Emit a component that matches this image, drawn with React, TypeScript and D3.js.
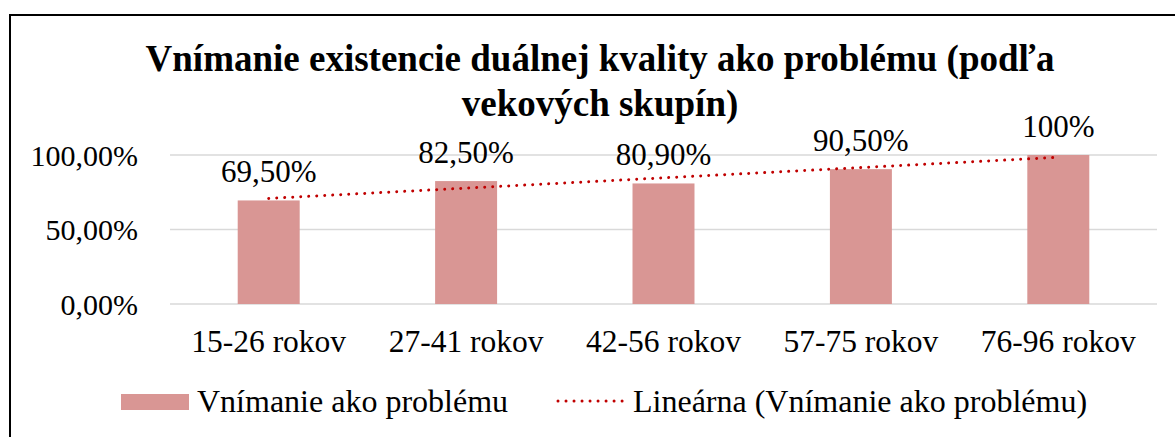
import React, { useEffect, useRef } from 'react';
import * as d3 from 'd3';

// data
const categories = ['15-26 rokov', '27-41 rokov', '42-56 rokov', '57-75 rokov', '76-96 rokov'];
const values = [0.695, 0.825, 0.809, 0.905, 1.0];
const valueLabels = ['69,50%', '82,50%', '80,90%', '90,50%', '100%'];
const yTicks = [0, 0.5, 1];
const titleLines = ['Vnímanie existencie duálnej kvality ako problému (podľa', 'vekových skupín)'];
const seriesName = 'Vnímanie ako problému';
const trendName = 'Lineárna (Vnímanie ako problému)';

const FONT = '"Liberation Serif", "Times New Roman", serif';
const BAR_COLOR = '#d99694';
const TREND_COLOR = '#c00000';

const App = () => {
    const ref = useRef<SVGSVGElement>(null);

    useEffect(() => {
        const width = 1175;
        const height = 437;
        const plot = { left: 170, right: 1157, top: 155, bottom: 304 };

        const svg = d3.select(ref.current)
            .attr('width', width)
            .attr('height', height);
        svg.selectAll('*').remove();

        svg.append('rect')
            .attr('width', width).attr('height', height)
            .attr('fill', '#fff');

        // chart frame (right and bottom edges fall outside the picture)
        svg.append('rect')
            .attr('x', 10).attr('y', 15)
            .attr('width', 1200).attr('height', 500)
            .attr('fill', 'none')
            .attr('stroke', '#000')
            .attr('stroke-width', 2);

        const xScale = d3.scaleBand()
            .domain(categories)
            .range([plot.left, plot.right])
            .paddingInner(0.686)
            .paddingOuter(0.343);

        const yScale = d3.scaleLinear()
            .domain([0, 1])
            .range([plot.bottom, plot.top]);

        const sk = d3.formatLocale({ decimal: ',', thousands: ' ', grouping: [3], currency: ['', ' €'] });
        const pct = sk.format('.2%');

        // title
        svg.append('text')
            .attr('x', 600)
            .attr('font-family', FONT)
            .attr('font-size', 37)
            .attr('font-weight', 'bold')
            .attr('text-anchor', 'middle')
            .selectAll('tspan')
            .data(titleLines)
            .enter()
            .append('tspan')
            .attr('x', 600)
            .attr('y', (d, i) => 71 + i * 45)
            .text(d => d);

        // gridlines
        svg.append('g')
            .selectAll('line')
            .data(yTicks)
            .enter()
            .append('line')
            .attr('x1', plot.left).attr('x2', plot.right)
            .attr('y1', d => yScale(d)).attr('y2', d => yScale(d))
            .attr('stroke', '#d9d9d9')
            .attr('stroke-width', 1.5);

        // y tick labels
        svg.append('g')
            .selectAll('text')
            .data(yTicks)
            .enter()
            .append('text')
            .attr('x', 138)
            .attr('y', d => yScale(d))
            .attr('dy', '0.35em')
            .attr('text-anchor', 'end')
            .attr('font-family', FONT)
            .attr('font-size', 30)
            .text(d => pct(d));

        // bars
        svg.append('g')
            .selectAll('rect')
            .data(values)
            .enter()
            .append('rect')
            .attr('x', (d, i) => xScale(categories[i]))
            .attr('y', d => yScale(d))
            .attr('width', xScale.bandwidth())
            .attr('height', d => yScale(0) - yScale(d))
            .attr('fill', BAR_COLOR);

        // value labels
        svg.append('g')
            .selectAll('text')
            .data(values)
            .enter()
            .append('text')
            .attr('x', (d, i) => xScale(categories[i]) + xScale.bandwidth() / 2)
            .attr('y', d => yScale(d) - 18)
            .attr('text-anchor', 'middle')
            .attr('font-family', FONT)
            .attr('font-size', 31)
            .text((d, i) => valueLabels[i]);

        // linear trendline (least squares over category index)
        const xs = values.map((d, i) => i + 1);
        const mx = d3.mean(xs);
        const my = d3.mean(values);
        const slope = d3.sum(xs, (x, i) => (x - mx) * (values[i] - my)) / d3.sum(xs, x => (x - mx) ** 2);
        const intercept = my - slope * mx;
        const trend = xs.map((x, i) => [
            xScale(categories[i]) + xScale.bandwidth() / 2,
            yScale(intercept + slope * x),
        ]);
        const ends = [trend[0], trend[trend.length - 1]];

        svg.append('path')
            .attr('d', d3.line()(ends))
            .attr('fill', 'none')
            .attr('stroke', TREND_COLOR)
            .attr('stroke-width', 3)
            .attr('stroke-linecap', 'round')
            .attr('stroke-dasharray', '0.01 8');

        // category labels
        svg.append('g')
            .selectAll('text')
            .data(categories)
            .enter()
            .append('text')
            .attr('x', d => xScale(d) + xScale.bandwidth() / 2)
            .attr('y', 352)
            .attr('text-anchor', 'middle')
            .attr('font-family', FONT)
            .attr('font-size', 31.5)
            .text(d => d);

        // legend
        const legend = svg.append('g');
        legend.append('rect')
            .attr('x', 121).attr('y', 394)
            .attr('width', 68).attr('height', 16)
            .attr('fill', BAR_COLOR);
        legend.append('text')
            .attr('x', 197).attr('y', 412)
            .attr('font-family', FONT)
            .attr('font-size', 32)
            .text(seriesName);
        legend.append('line')
            .attr('x1', 558).attr('x2', 626)
            .attr('y1', 401).attr('y2', 401)
            .attr('stroke', TREND_COLOR)
            .attr('stroke-width', 3)
            .attr('stroke-linecap', 'round')
            .attr('stroke-dasharray', '0.01 8');
        legend.append('text')
            .attr('x', 633).attr('y', 412)
            .attr('font-family', FONT)
            .attr('font-size', 32)
            .text(trendName);
    }, []);

    return <svg ref={ref} style={{ position: 'absolute', left: 0, top: 0, display: 'block' }}></svg>;
};

export default App;
